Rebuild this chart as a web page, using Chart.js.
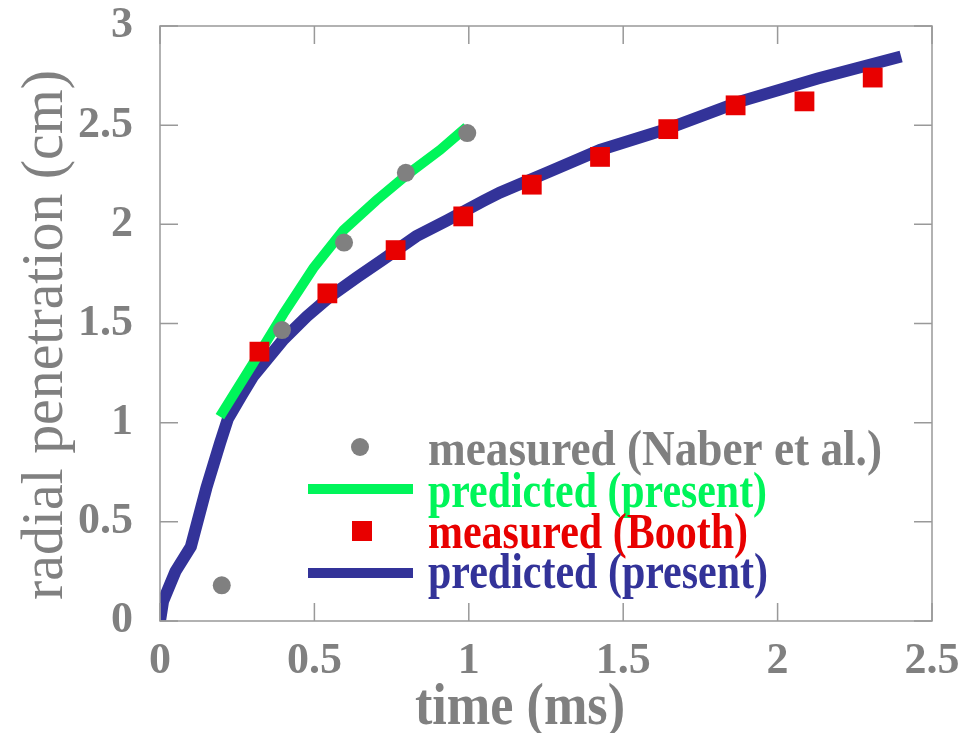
<!DOCTYPE html>
<html lang="en">
<head>
    <meta charset="UTF-8">
    <title>Radial penetration</title>
    <style>
        body {margin: 0; background: #fff;}
        #wrap {width: 973px; height: 733px;}
    </style>
    <script src="https://cdn.jsdelivr.net/npm/chart.js@4.4.1/dist/chart.umd.min.js"></script>
</head>
<body>
    <div id="wrap">
        <canvas id="penChart" width="973" height="733"></canvas>
    </div>

    <script>
        // measured (Naber et al.)
        const naberTime = [0.2, 0.395, 0.596, 0.796, 0.995];
        const naberPen  = [0.18, 1.467, 1.908, 2.26, 2.46];

        // predicted (present) - green
        const greenTime = [0.194, 0.302, 0.4, 0.497, 0.594, 0.7, 0.8, 0.907, 0.993];
        const greenPen  = [1.03, 1.3, 1.55, 1.78, 1.97, 2.12, 2.25, 2.375, 2.49];

        // measured (Booth)
        const boothTime = [0.322, 0.542, 0.763, 0.982, 1.204, 1.425, 1.646, 1.864, 2.087, 2.308];
        const boothPen  = [1.358, 1.652, 1.87, 2.04, 2.2, 2.34, 2.48, 2.6, 2.62, 2.74];

        // predicted (present) - blue
        const blueTime = [0, 0.01, 0.05, 0.1, 0.15, 0.195, 0.22, 0.265, 0.3, 0.4, 0.475, 0.55, 0.64, 0.72, 0.83, 0.93, 1.05, 1.1, 1.26, 1.425, 1.64, 1.88, 2.13, 2.4];
        const bluePen  = [0, 0.1, 0.25, 0.375, 0.67, 0.9, 1.02, 1.14, 1.23, 1.42, 1.535, 1.635, 1.735, 1.82, 1.94, 2.02, 2.12, 2.16, 2.265, 2.375, 2.48, 2.62, 2.735, 2.846];

        const xTicks = [0, 0.5, 1, 1.5, 2, 2.5];
        const yTicks = [0, 0.5, 1, 1.5, 2, 2.5, 3];

        const GRAY = '#808080';
        const GREEN = '#00f55a';
        const RED = '#e80000';
        const BLUE = '#333399';
        const SERIF = '"Liberation Serif", "Times New Roman", serif';

        function pts(xs, ys) {
            return xs.map((x, i) => ({x: x, y: ys[i]}));
        }

        // draw text squeezed to a wanted width (the original fonts are narrow)
        function squeezedText(c, text, x, y, width, align) {
            const w = c.measureText(text).width;
            const k = width / w;
            c.save();
            c.translate(x, y);
            c.scale(k, 1);
            c.textAlign = align;
            c.fillText(text, 0, 0);
            c.restore();
        }

        // frame + inward ticks on all four sides
        const framePlugin = {
            id: 'frame',
            afterDatasetsDraw(chart) {
                const c = chart.ctx, a = chart.chartArea;
                const xs = chart.scales.x, ys = chart.scales.y;
                c.save();
                c.strokeStyle = '#999';
                c.lineWidth = 1.5;
                c.strokeRect(a.left, a.top, a.right - a.left, a.bottom - a.top);
                c.beginPath();
                xTicks.forEach(v => {
                    const px = xs.getPixelForValue(v);
                    c.moveTo(px, a.bottom); c.lineTo(px, a.bottom - 18);
                    c.moveTo(px, a.top); c.lineTo(px, a.top + 18);
                });
                yTicks.forEach(v => {
                    const py = ys.getPixelForValue(v);
                    c.moveTo(a.left, py); c.lineTo(a.left + 18, py);
                    c.moveTo(a.right, py); c.lineTo(a.right - 18, py);
                });
                c.stroke();
                c.restore();
            }
        };

        // axis titles
        const titlePlugin = {
            id: 'axisTitles',
            afterDraw(chart) {
                const c = chart.ctx;
                c.save();
                c.fillStyle = GRAY;
                c.textBaseline = 'alphabetic';
                c.font = 'bold 60px ' + SERIF;
                squeezedText(c, 'time (ms)', 520, 724, 210, 'center');
                c.translate(62, 335);
                c.rotate(-Math.PI / 2);
                c.font = '60px ' + SERIF;
                squeezedText(c, 'radial penetration (cm)', 0, 0, 530, 'center');
                c.restore();
            }
        };

        // legend drawn inside the plot
        const legendItems = [
            {text: 'measured (Naber et al.)', color: GRAY, kind: 'circle', width: 454},
            {text: 'predicted (present)', color: GREEN, kind: 'line', width: 339},
            {text: 'measured (Booth)', color: RED, kind: 'square', width: 320},
            {text: 'predicted (present)', color: BLUE, kind: 'line', width: 340}
        ];
        const legendPlugin = {
            id: 'insideLegend',
            afterDraw(chart) {
                const c = chart.ctx;
                const baseY = [465, 507, 548, 588];
                const symY = [447, 489, 531, 573];
                c.save();
                c.font = 'bold 50px ' + SERIF;
                c.textBaseline = 'alphabetic';
                legendItems.forEach((it, i) => {
                    const y = symY[i];
                    c.fillStyle = it.color;
                    c.strokeStyle = it.color;
                    if (it.kind === 'circle') {
                        c.beginPath(); c.arc(360, y, 9, 0, Math.PI * 2); c.fill();
                    } else if (it.kind === 'square') {
                        c.fillRect(352, y - 10, 20, 20);
                    } else {
                        c.lineWidth = 10;
                        c.beginPath(); c.moveTo(308, y); c.lineTo(413, y); c.stroke();
                    }
                    squeezedText(c, it.text, 428, baseY[i], it.width, 'left');
                });
                c.restore();
            }
        };

        const tickFont = {family: SERIF, size: 44, weight: 'bold'};

        const chart = new Chart(document.getElementById('penChart'), {
            type: 'scatter',
            data: {
                datasets: [{
                    label: 'measured (Naber et al.)',
                    data: pts(naberTime, naberPen),
                    pointStyle: 'circle',
                    pointRadius: 9,
                    backgroundColor: GRAY,
                    borderWidth: 0,
                    order: 1
                }, {
                    label: 'predicted (present)',
                    data: pts(greenTime, greenPen),
                    showLine: true,
                    pointRadius: 0,
                    borderColor: GREEN,
                    borderWidth: 10,
                    order: 3
                }, {
                    label: 'measured (Booth)',
                    data: pts(boothTime, boothPen),
                    pointStyle: 'rect',
                    pointRadius: 14,
                    backgroundColor: RED,
                    borderWidth: 0,
                    order: 2
                }, {
                    label: 'predicted (present)',
                    data: pts(blueTime, bluePen),
                    showLine: true,
                    pointRadius: 0,
                    borderColor: BLUE,
                    borderWidth: 12,
                    order: 4
                }]
            },
            options: {
                responsive: false,
                animation: false,
                layout: {padding: {left: 0, right: 41, top: 0, bottom: 0}},
                plugins: {legend: {display: false}, tooltip: {enabled: false}},
                scales: {
                    x: {
                        type: 'linear', min: 0, max: 2.5,
                        afterBuildTicks: s => { s.ticks = xTicks.map(v => ({value: v})); },
                        grid: {display: false, drawTicks: false},
                        border: {display: false},
                        ticks: {color: GRAY, font: tickFont, padding: 14, maxRotation: 0,
                            callback: v => String(v)},
                        afterFit: s => { s.height = 112; s.paddingLeft = 0; s.paddingRight = 0; }
                    },
                    y: {
                        type: 'linear', min: 0, max: 3,
                        afterBuildTicks: s => { s.ticks = yTicks.map(v => ({value: v})); },
                        grid: {display: false, drawTicks: false},
                        border: {display: false},
                        ticks: {color: GRAY, font: tickFont, padding: 27,
                            callback: v => String(v)},
                        afterFit: s => { s.width = 160; s.paddingTop = 26; s.paddingBottom = 0; }
                    }
                }
            },
            plugins: [framePlugin, titlePlugin, legendPlugin]
        });
    </script>
</body>
</html>
